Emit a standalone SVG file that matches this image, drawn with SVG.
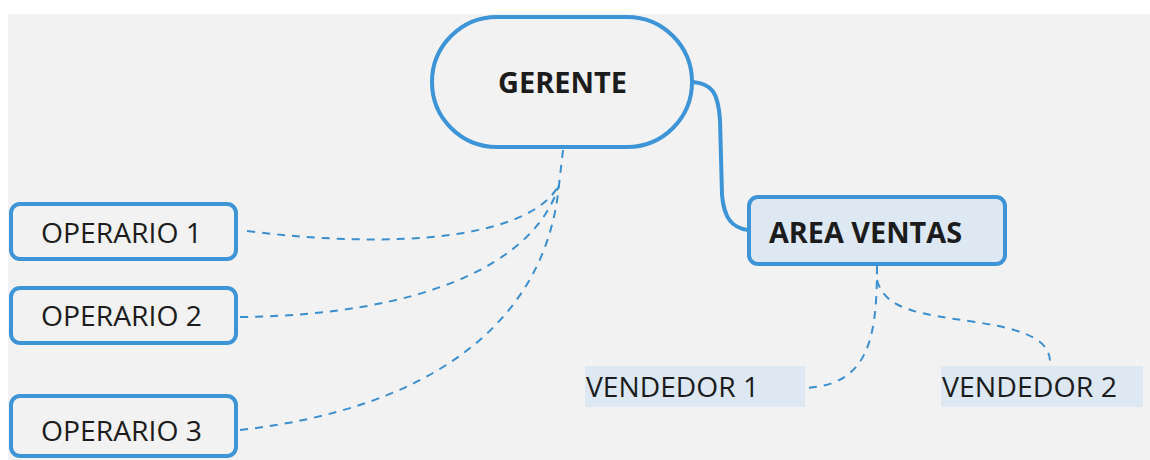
<svg xmlns="http://www.w3.org/2000/svg" width="1150" height="460" viewBox="0 0 1150 460">
  <style>
    .box { stroke: #3d94d6; stroke-width: 4; fill: #f2f2f2; }
    .sel { fill: #dde8f3; }
    .t { font-family: "Open Sans", "Noto Sans", sans-serif; fill: #1c1c1c; }
    .b { font-weight: bold; }
    .dash { fill: none; stroke: #3b8fce; stroke-width: 2; stroke-dasharray: 8 7; }
    .solid { fill: none; stroke: #3d94d6; stroke-width: 4; }
  </style>
  <rect x="0" y="0" width="1150" height="460" fill="#ffffff"/>
  <rect x="8" y="14" width="1142" height="446" fill="#f2f2f2"/>

  <g id="connectors">
    <path class="solid" d="M693,82 C712,84 718,92 720,120 L722,195 C724,218 732,228 748,230"/>
    <path class="dash" d="M563,150 L559,185"/>
    <path class="dash" d="M247,231 C400,250 530,238 559,185"/>
    <path class="dash" d="M240,317 C420,315 535,265 559,185"/>
    <path class="dash" d="M240,430 C420,410 545,330 559,185"/>
    <path class="dash" d="M877,266 C877,340 868,385 805,388"/>
    <path class="dash" d="M877,280 C885,310 920,314 975,322 C1030,330 1050,342 1050,362"/>
  </g>

  <g id="gerente">
    <rect class="box" x="432" y="17" width="260" height="130" rx="65"/>
    <text class="t b" x="498" y="93" font-size="28" textLength="129" lengthAdjust="spacingAndGlyphs">GERENTE</text>
  </g>
  <g id="area-ventas">
    <rect class="box sel" x="749" y="197" width="256" height="67" rx="9"/>
    <text class="t b" x="769" y="243" font-size="29" textLength="193" lengthAdjust="spacingAndGlyphs">AREA VENTAS</text>
  </g>
  <g id="operario-1">
    <rect class="box" x="11" y="204" width="225" height="55" rx="9"/>
    <text class="t" x="41" y="243" font-size="27" textLength="161" lengthAdjust="spacingAndGlyphs">OPERARIO 1</text>
  </g>
  <g id="operario-2">
    <rect class="box" x="11" y="288" width="225" height="55" rx="9"/>
    <text class="t" x="41" y="326" font-size="27" textLength="161" lengthAdjust="spacingAndGlyphs">OPERARIO 2</text>
  </g>
  <g id="operario-3">
    <rect class="box" x="11" y="396" width="225" height="60" rx="9"/>
    <text class="t" x="41" y="441" font-size="27" textLength="161" lengthAdjust="spacingAndGlyphs">OPERARIO 3</text>
  </g>
  <g id="vendedor-1">
    <rect class="sel" x="585" y="366" width="220" height="41"/>
    <text class="t" x="586" y="397" font-size="28" textLength="173" lengthAdjust="spacingAndGlyphs">VENDEDOR 1</text>
  </g>
  <g id="vendedor-2">
    <rect class="sel" x="941" y="366" width="202" height="41"/>
    <text class="t" x="942" y="397" font-size="28" textLength="175" lengthAdjust="spacingAndGlyphs">VENDEDOR 2</text>
  </g>
</svg>
